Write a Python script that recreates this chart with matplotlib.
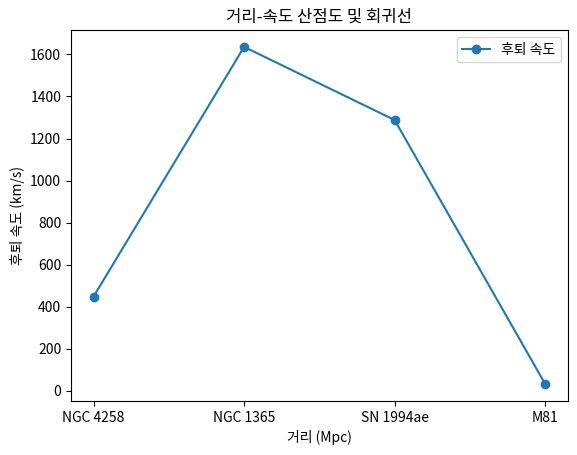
import matplotlib
matplotlib.use('Agg')
import matplotlib.pyplot as plt

plt.rcParams['font.family'] = ['Noto Sans CJK KR', 'DejaVu Sans']

# 데이터
galaxies = ['NGC 4258', 'NGC 1365', 'SN 1994ae', 'M81']
velocity = [448, 1636, 1288, 32]

fig = plt.figure(figsize=(5.77, 4.55), dpi=100)
ax = fig.add_axes([0.123, 0.119, 0.861, 0.815])
ax.plot(galaxies, velocity, marker='o', linestyle='-', label='후퇴 속도')
ax.set_title('거리-속도 산점도 및 회귀선')
ax.set_xlabel('거리 (Mpc)')
ax.set_ylabel('후퇴 속도 (km/s)')
ax.legend(loc='upper right')
fig.savefig('out.png')
plt.close()
